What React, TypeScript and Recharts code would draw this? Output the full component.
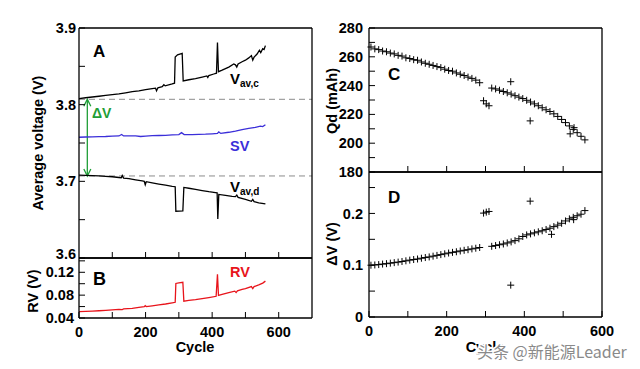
import { LineChart, Line, ScatterChart, Scatter, XAxis, YAxis, ReferenceLine } from 'recharts'

const FONT = '"Liberation Sans", Arial, sans-serif'
const TICK = 6

// A: average charge voltage (Vav,c)
const vcCycle = [0, 20, 40, 60, 80, 100, 120, 140, 160, 180, 200, 220, 230, 233, 237, 250, 255, 259, 280, 287, 289, 296, 310, 313, 330, 350, 370, 384, 387, 390, 405, 413, 416, 419, 430, 450, 465, 470, 474, 478, 490, 500, 510, 518, 522, 526, 535, 542, 546, 552, 556, 560]
const vcVolt = [3.808, 3.809, 3.810, 3.811, 3.812, 3.813, 3.814, 3.8155, 3.817, 3.818, 3.8195, 3.821, 3.8215, 3.818, 3.822, 3.8235, 3.826, 3.8245, 3.827, 3.828, 3.862, 3.865, 3.867, 3.831, 3.8325, 3.834, 3.836, 3.8375, 3.8355, 3.838, 3.840, 3.841, 3.881, 3.843, 3.845, 3.849, 3.853, 3.852, 3.849, 3.853, 3.856, 3.858, 3.861, 3.864, 3.858, 3.862, 3.866, 3.871, 3.868, 3.873, 3.872, 3.877]

// A: SV
const svCycle = [0, 20, 40, 60, 80, 100, 120, 128, 134, 150, 170, 185, 200, 220, 240, 260, 280, 300, 308, 316, 340, 360, 380, 400, 416, 420, 426, 450, 470, 490, 510, 530, 545, 552, 560]
const svVolt = [3.7575, 3.7578, 3.758, 3.7582, 3.7585, 3.759, 3.7592, 3.7612, 3.7592, 3.7593, 3.7592, 3.7585, 3.759, 3.7595, 3.7598, 3.760, 3.7605, 3.761, 3.7635, 3.761, 3.761, 3.7612, 3.7615, 3.762, 3.7625, 3.7645, 3.7625, 3.764, 3.7655, 3.7675, 3.769, 3.7705, 3.772, 3.7715, 3.7738]

// A: average discharge voltage (Vav,d)
const vdCycle = [0, 20, 40, 60, 80, 100, 120, 127, 130, 134, 150, 170, 190, 196, 199, 202, 220, 240, 260, 280, 289, 291, 312, 315, 330, 350, 370, 390, 410, 415, 417, 420, 440, 460, 470, 474, 478, 500, 518, 522, 526, 540, 560]
const vdVolt = [3.708, 3.7078, 3.7075, 3.707, 3.7065, 3.706, 3.705, 3.7045, 3.7075, 3.7042, 3.7035, 3.702, 3.7005, 3.700, 3.6955, 3.6995, 3.698, 3.6965, 3.695, 3.6935, 3.693, 3.661, 3.6615, 3.692, 3.691, 3.6895, 3.688, 3.6865, 3.6853, 3.685, 3.651, 3.683, 3.6818, 3.6805, 3.680, 3.682, 3.679, 3.6765, 3.674, 3.6765, 3.6735, 3.672, 3.6705]

const dashLevels = [3.807, 3.707]
const arrowCycle = 25

// B: RV
const rvCycle = [0, 20, 40, 60, 80, 100, 120, 130, 134, 160, 180, 196, 199, 202, 220, 240, 260, 280, 289, 291, 300, 312, 315, 330, 350, 370, 390, 412, 416, 419, 430, 450, 468, 472, 476, 490, 500, 518, 522, 526, 540, 552, 560]
const rvVolt = [0.051, 0.0515, 0.052, 0.0527, 0.0535, 0.0542, 0.055, 0.0548, 0.0558, 0.057, 0.0585, 0.0597, 0.0615, 0.06, 0.0613, 0.063, 0.0645, 0.0665, 0.0675, 0.1005, 0.1015, 0.1025, 0.0695, 0.0707, 0.072, 0.074, 0.0758, 0.078, 0.1165, 0.0797, 0.0815, 0.0845, 0.087, 0.0845, 0.0875, 0.090, 0.0915, 0.095, 0.0915, 0.095, 0.098, 0.101, 0.1045]

// C: discharge capacity
const qdCycle = [5, 15, 25, 35, 45, 55, 65, 75, 85, 95, 105, 115, 125, 135, 145, 155, 165, 175, 185, 195, 205, 215, 225, 235, 245, 255, 265, 275, 285, 316, 326, 336, 346, 356, 366, 376, 386, 396, 406, 416, 426, 436, 446, 456, 466, 476, 486, 496, 506, 516, 526, 536, 546, 556]
const qdValue = [266.8, 265.5, 265.0, 264.0, 263.5, 262.6, 262.0, 261.0, 260.5, 259.3, 258.8, 258.0, 257.6, 256.4, 255.5, 254.8, 254.0, 253.2, 252.5, 251.4, 250.5, 250.0, 248.8, 247.9, 247.0, 245.9, 245.0, 243.8, 242.0, 238.3, 237.7, 236.8, 235.9, 235.0, 234.1, 233.0, 232.0, 231.0, 229.8, 228.6, 227.3, 226.0, 224.6, 223.2, 222.0, 220.4, 218.6, 216.5, 214.3, 212.0, 209.6, 207.3, 204.8, 202.3]
const qdOutCycle = [295, 302, 309, 365, 415, 518, 528]
const qdOutValue = [229.5, 227.3, 226.0, 242.7, 215.5, 206.5, 210.8]

// D: voltage hysteresis
const dvCycle = qdCycle
const dvValue = [0.100, 0.1005, 0.1012, 0.1022, 0.103, 0.104, 0.105, 0.106, 0.1072, 0.1085, 0.1098, 0.111, 0.112, 0.1135, 0.1148, 0.116, 0.1175, 0.119, 0.1205, 0.122, 0.1235, 0.1248, 0.126, 0.1275, 0.1288, 0.130, 0.1315, 0.1328, 0.1342, 0.1365, 0.138, 0.1395, 0.141, 0.143, 0.145, 0.1475, 0.151, 0.1555, 0.1585, 0.1605, 0.1625, 0.1645, 0.1665, 0.169, 0.1715, 0.1745, 0.1775, 0.181, 0.1855, 0.1895, 0.1925, 0.1955, 0.1985, 0.2055]
const dvOutCycle = [295, 302, 309, 365, 415, 470, 527]
const dvOutValue = [0.2006, 0.2025, 0.2038, 0.0615, 0.2237, 0.1596, 0.188]

const pts = (xs: number[], ys: number[]) => xs.map((c, i) => ({ cycle: c, v: ys[i] }))

type Side = 'left' | 'right' | 'top' | 'bottom'

const tick = (side: Side, labels: number[] = [], fmt = (v: number) => String(v), gap = 4, lift = (_v: number) => 0) => (props: any) => {
  const { x, y, payload } = props
  const v = payload.value as number
  const show = labels.some(l => Math.abs(l - v) < 1e-6)
  const dx = side === 'left' ? TICK : side === 'right' ? -TICK : 0
  const dy = side === 'top' ? TICK : side === 'bottom' ? -TICK : 0
  return (
    <g>
      <line x1={x} y1={y} x2={x + dx} y2={y + dy} stroke="#000" strokeWidth={1} />
      {show && side === 'left' && (
        <text x={x - gap} y={y - lift(v)} dy="0.35em" textAnchor="end" fontFamily={FONT} fontWeight="bold" fontSize={14.5} fill="#000">{fmt(v)}</text>
      )}
      {show && side === 'bottom' && (
        <text x={x} y={y + 19} textAnchor="middle" fontFamily={FONT} fontWeight="bold" fontSize={14.5} fill="#000">{fmt(v)}</text>
      )}
    </g>
  )
}

const axisLine = { stroke: '#000', strokeWidth: 1.3 }
const common = { tickSize: 0, tickMargin: 0, interval: 0 as const, axisLine }

const Plus = (props: any) => {
  const { cx, cy } = props
  if (cx == null || cy == null) return <g />
  return (
    <g stroke="#000" strokeWidth={1}>
      <line x1={cx - 3.5} y1={cy} x2={cx + 3.5} y2={cy} />
      <line x1={cx} y1={cy - 3.5} x2={cx} y2={cy + 3.5} />
    </g>
  )
}

const Arrow = (props: any) => {
  const { x1, y1, x2, y2 } = props
  const top = Math.min(y1, y2)
  const bot = Math.max(y1, y2)
  const c = '#1f9e37'
  return (
    <g>
      <line x1={x1} y1={top + 1} x2={x2} y2={bot - 1} stroke={c} strokeWidth={1.3} />
      <path d={`M${x1 - 3.5},${top + 7} L${x1},${top} L${x1 + 3.5},${top + 7}`} fill="none" stroke={c} strokeWidth={1.3} />
      <path d={`M${x1 - 3.5},${bot - 7} L${x1},${bot} L${x1 + 3.5},${bot - 7}`} fill="none" stroke={c} strokeWidth={1.3} />
    </g>
  )
}

const leftX = [100, 200, 300, 400, 500, 600]
const rightX = [100, 200, 300, 400, 500]
const one = (v: number) => v.toFixed(1)
const two = (v: number) => v.toFixed(2)

function PanelA() {
  return (
    <LineChart width={320} height={272} margin={{ top: 27, right: 7, bottom: 13, left: 78 }}>
      <XAxis xAxisId="b" type="number" dataKey="cycle" domain={[0, 700]} ticks={leftX} height={1} tick={tick('bottom')} {...common} />
      <XAxis xAxisId="t" orientation="top" type="number" dataKey="cycle" domain={[0, 700]} ticks={leftX} height={1} tick={tick('top')} {...common} />
      <YAxis yAxisId="l" type="number" domain={[3.6, 3.9]} ticks={[3.6, 3.65, 3.7, 3.75, 3.8, 3.85, 3.9]} width={1} tick={tick('left', [3.6, 3.7, 3.8, 3.9], one, 3, v => (v < 3.65 ? 4 : 0))} {...common} />
      <YAxis yAxisId="r" orientation="right" type="number" domain={[3.6, 3.9]} ticks={[3.65, 3.7, 3.75, 3.8, 3.85]} width={1} tick={tick('right')} {...common} />
      {dashLevels.map(l => (
        <ReferenceLine key={l} xAxisId="b" yAxisId="l" y={l} stroke="#8c8c8c" strokeWidth={1} strokeDasharray="6 4" />
      ))}
      <ReferenceLine xAxisId="b" yAxisId="l" segment={[{ x: arrowCycle, y: dashLevels[0] }, { x: arrowCycle, y: dashLevels[1] }]} shape={Arrow} />
      <Line xAxisId="b" yAxisId="l" data={pts(vcCycle, vcVolt)} dataKey="v" stroke="#000" strokeWidth={1.3} dot={false} isAnimationActive={false} />
      <Line xAxisId="b" yAxisId="l" data={pts(svCycle, svVolt)} dataKey="v" stroke="#3b2fd9" strokeWidth={1.3} dot={false} isAnimationActive={false} />
      <Line xAxisId="b" yAxisId="l" data={pts(vdCycle, vdVolt)} dataKey="v" stroke="#000" strokeWidth={1.3} dot={false} isAnimationActive={false} />
    </LineChart>
  )
}

function PanelB() {
  return (
    <LineChart width={320} height={129} margin={{ top: 17, right: 7, bottom: 50, left: 78 }}>
      <XAxis xAxisId="b" type="number" dataKey="cycle" domain={[0, 700]} ticks={[0, ...leftX]} height={1} tick={tick('bottom', [0, 200, 400, 600])} {...common} />
      <XAxis xAxisId="t" orientation="top" type="number" dataKey="cycle" domain={[0, 700]} ticks={leftX} height={1} tick={tick('top')} {...common} />
      <YAxis yAxisId="l" type="number" domain={[0.04, 0.145]} ticks={[0.04, 0.06, 0.08, 0.1, 0.12, 0.14]} width={1} tick={tick('left', [0.04, 0.08, 0.12], two, 5)} {...common} />
      <YAxis yAxisId="r" orientation="right" type="number" domain={[0.04, 0.145]} ticks={[0.06, 0.08, 0.1, 0.12, 0.14]} width={1} tick={tick('right')} {...common} />
      <Line xAxisId="b" yAxisId="l" data={pts(rvCycle, rvVolt)} dataKey="v" stroke="#e8141b" strokeWidth={1.3} dot={false} isAnimationActive={false} />
    </LineChart>
  )
}

function PanelC() {
  return (
    <ScatterChart width={320} height={180} margin={{ top: 27, right: 37, bottom: 7, left: 48 }}>
      <XAxis xAxisId="b" type="number" dataKey="cycle" domain={[0, 600]} ticks={rightX} height={1} tick={tick('bottom')} {...common} />
      <XAxis xAxisId="t" orientation="top" type="number" dataKey="cycle" domain={[0, 600]} ticks={rightX} height={1} tick={tick('top')} {...common} />
      <YAxis yAxisId="l" type="number" dataKey="v" domain={[180, 280]} ticks={[180, 190, 200, 210, 220, 230, 240, 250, 260, 270, 280]} width={1} tick={tick('left', [180, 200, 220, 240, 260, 280], String, 6)} {...common} />
      <YAxis yAxisId="r" orientation="right" type="number" dataKey="v" domain={[180, 280]} ticks={[190, 200, 210, 220, 230, 240, 250, 260, 270]} width={1} tick={tick('right')} {...common} />
      <Scatter xAxisId="b" yAxisId="l" data={pts(qdCycle, qdValue)} shape={Plus} isAnimationActive={false} />
      <Scatter xAxisId="b" yAxisId="l" data={pts(qdOutCycle, qdOutValue)} shape={Plus} isAnimationActive={false} />
    </ScatterChart>
  )
}

function PanelD() {
  return (
    <ScatterChart width={320} height={209} margin={{ top: 11, right: 37, bottom: 51, left: 48 }}>
      <XAxis xAxisId="b" type="number" dataKey="cycle" domain={[0, 600]} ticks={[0, ...rightX, 600]} height={1} tick={tick('bottom', [0, 200, 400, 600])} {...common} />
      <XAxis xAxisId="t" orientation="top" type="number" dataKey="cycle" domain={[0, 600]} ticks={rightX} height={1} tick={tick('top')} {...common} />
      <YAxis yAxisId="l" type="number" dataKey="v" domain={[0, 0.28]} ticks={[0, 0.05, 0.1, 0.15, 0.2, 0.25]} width={1} tick={tick('left', [0, 0.1, 0.2], v => (v === 0 ? '0' : v.toFixed(1)), 6)} {...common} />
      <YAxis yAxisId="r" orientation="right" type="number" dataKey="v" domain={[0, 0.28]} ticks={[0.05, 0.1, 0.15, 0.2, 0.25]} width={1} tick={tick('right')} {...common} />
      <Scatter xAxisId="b" yAxisId="l" data={pts(dvCycle, dvValue)} shape={Plus} isAnimationActive={false} />
      <Scatter xAxisId="b" yAxisId="l" data={pts(dvOutCycle, dvOutValue)} shape={Plus} isAnimationActive={false} />
    </ScatterChart>
  )
}

const bold = { fontFamily: FONT, fontWeight: 'bold' as const }

export default function App() {
  return (
    <div style={{ position: 'absolute', left: 0, top: 0, width: 640, height: 369, background: '#fff' }}>
      <div style={{ position: 'absolute', left: 0, top: 0 }}><PanelA /></div>
      <div style={{ position: 'absolute', left: 0, top: 240 }}><PanelB /></div>
      <div style={{ position: 'absolute', left: 320, top: 0 }}><PanelC /></div>
      <div style={{ position: 'absolute', left: 320, top: 160 }}><PanelD /></div>
      <svg width={640} height={369} style={{ position: 'absolute', left: 0, top: 0, pointerEvents: 'none' }}>
        <g {...bold} fill="#000">
          <text x={93} y={57} fontSize={17}>A</text>
          <text x={93} y={285} fontSize={18}>B</text>
          <text x={388} y={80} fontSize={17}>C</text>
          <text x={388} y={203} fontSize={17}>D</text>
          <text x={230} y={84} fontSize={15}>V<tspan fontSize={10} dy={3}>av,c</tspan></text>
          <text x={230} y={192} fontSize={15}>V<tspan fontSize={10} dy={3}>av,d</tspan></text>
          <text x={230} y={151} fontSize={14.5} fill="#3b2fd9">SV</text>
          <text x={230} y={277} fontSize={14.5} fill="#e8141b">RV</text>
          <text x={92} y={118} fontSize={14} fill="#1f9e37">ΔV</text>
          <text transform="translate(38,143) rotate(-90)" textAnchor="middle" dy="0.35em" fontSize={14.5}>Average voltage (V)</text>
          <text transform="translate(33,291) rotate(-90)" textAnchor="middle" dy="0.35em" fontSize={14.5}>RV (V)</text>
          <text transform="translate(332,101) rotate(-90)" textAnchor="middle" dy="0.35em" fontSize={14.5}>Qd (mAh)</text>
          <text transform="translate(332,244) rotate(-90)" textAnchor="middle" dy="0.35em" fontSize={14.5}>ΔV (V)</text>
          <text x={195} y={352} textAnchor="middle" fontSize={14.5}>Cycle</text>
          <text x={485} y={352} textAnchor="middle" fontSize={14.5}>Cycle</text>
        </g>
        <text x={477} y={358} fontFamily='"Noto Sans CJK SC", sans-serif' fontSize={16} fill="#8a8a8a" stroke="#fff" strokeWidth={3} paintOrder="stroke">头条 @新能源Leader</text>
      </svg>
    </div>
  )
}
